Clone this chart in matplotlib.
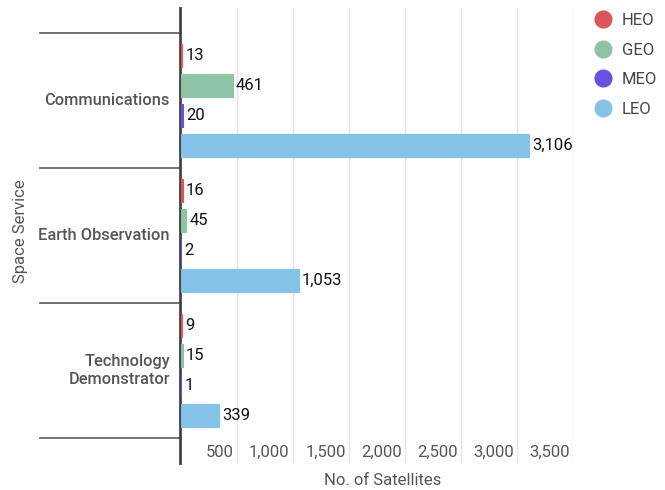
import matplotlib
matplotlib.use("Agg")
import matplotlib.pyplot as plt
import matplotlib.transforms as mtransforms
from matplotlib.lines import Line2D
import numpy as np

plt.rcParams['font.family'] = ['Roboto', 'DejaVu Sans']

# data
categories = ['Communications', 'Earth Observation', 'Technology\nDemonstrator']
orbits = ['HEO', 'GEO', 'MEO', 'LEO']
heo = [13, 16, 9]
geo = [461, 45, 15]
meo = [20, 2, 1]
leo = [3106, 1053, 339]
xticks = [500, 1000, 1500, 2000, 2500, 3000, 3500]

colors = ['#de5458', '#8dc4a6', '#6a4fe0', '#85c2e7']
series = [heo, geo, meo, leo]

fig = plt.figure(figsize=(6.65, 4.9), dpi=100)
ax = fig.add_axes([181 / 665, 1 - 463 / 490, 392 / 665, 455 / 490])

y = np.arange(len(categories))
step = 30 / 135
for k, (vals, col) in enumerate(zip(series, colors)):
    pos = y + (k - 1.5) * step
    ax.barh(pos, vals, height=23 / 135, color=col, edgecolor=col,
            linewidth=0.8, zorder=3)
    for p, v in zip(pos, vals):
        ax.text(v + 28, p, f'{v:,}', va='center', ha='left',
                fontsize=12, color='#111111', zorder=4)

ax.set_xlim(0, 3500)
ax.set_ylim(2.5 + 25 / 135, -0.5 - 25 / 135)

# grid
ax.set_xticks(xticks)
ax.tick_params(axis='x', length=0, labelbottom=False)
ax.set_yticks([])
ax.grid(axis='x', color='#e3e3e3', linewidth=1, zorder=0)
for s in ['top', 'right', 'bottom']:
    ax.spines[s].set_visible(False)
ax.spines['left'].set_color('#444444')
ax.spines['left'].set_linewidth(2)
ax.spines['left'].set_position(('outward', 1))

# x tick labels inside plot, left of gridlines
for t in xticks:
    ax.text(t - 30, 2.5 + 14 / 135, f'{t:,}', ha='right', va='center',
            fontsize=12, color='#555555')

# category separators and labels
trans = mtransforms.blended_transform_factory(ax.transAxes, ax.transData)
for b in np.arange(-0.5, len(categories), 1.0):
    ax.plot([-141 / 392, 0], [b, b], transform=trans, color='#666666',
            linewidth=1.3, clip_on=False)
for i, c in enumerate(categories):
    ax.text(-11 / 392, i, c, transform=trans, ha='right', va='center',
            fontsize=11.8, color='#555555', fontweight='medium',
            linespacing=1.2)

fig.text(21 / 665, 1 - 231 / 490, 'Space Service', rotation=90,
         ha='center', va='center', fontsize=12, color='#555555')
fig.text(383 / 665, 1 - 480 / 490, 'No. of Satellites',
         ha='center', va='center', fontsize=12, color='#555555')

handles = [Line2D([], [], marker='o', linestyle='', markersize=12,
                  markerfacecolor=c, markeredgecolor=c) for c in colors]
leg = fig.legend(handles, orbits, loc='upper left',
                 bbox_to_anchor=(575 / 665, 1 + 2 / 490), frameon=False,
                 fontsize=12, labelspacing=0.88, handletextpad=0.4,
                 handlelength=1.5)
for t in leg.get_texts():
    t.set_color('#444444')

fig.savefig('out.png', dpi=100)
